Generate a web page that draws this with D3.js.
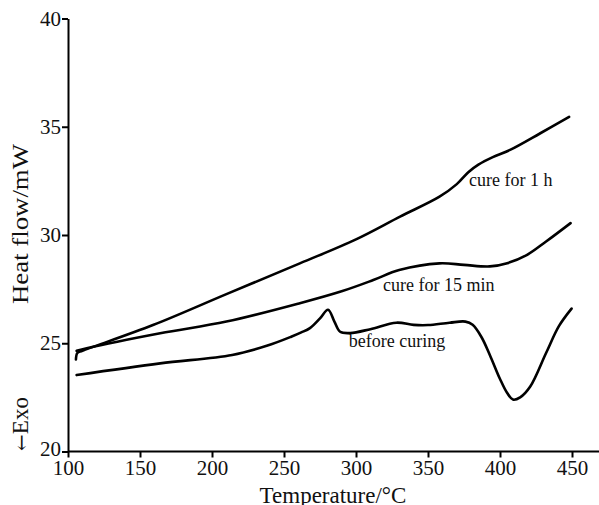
<!DOCTYPE html>
<html>
<head>
<meta charset="utf-8">
<script src="https://cdn.jsdelivr.net/npm/d3@7/dist/d3.min.js"></script>
<style>
  html, body { margin: 0; padding: 0; background: #fff; }
  svg { display: block; }
  text { font-family: "Liberation Serif", "Times New Roman", serif; fill: #111; }
</style>
</head>
<body>
<svg id="chart" width="599" height="505"></svg>
<script>
// ---- data ----
const xTicks = [100, 150, 200, 250, 300, 350, 400, 450];
const yTicks = [20, 25, 30, 35, 40];

const beforeX = [106, 164, 214, 238, 255, 262, 268, 275, 280.6, 285, 289, 296, 310, 328, 340, 350, 365, 376, 381, 387, 393, 400, 405, 409, 414, 421, 432, 441, 449.7];
const beforeY = [23.53, 24.07, 24.46, 24.88, 25.3, 25.5, 25.7, 26.15, 26.55, 26.0, 25.53, 25.47, 25.65, 25.95, 25.85, 25.84, 25.95, 26.0, 25.85, 25.3, 24.45, 23.35, 22.7, 22.4, 22.5, 23.0, 24.55, 25.8, 26.6];

const min15X = [106, 113, 164, 210, 261, 290, 312, 330, 358, 375, 393, 405, 418.5, 432, 449];
const min15Y = [24.65, 24.77, 25.46, 26.0, 26.85, 27.4, 27.92, 28.38, 28.69, 28.62, 28.55, 28.7, 29.07, 29.7, 30.55];

const hour1X = [105.5, 106.5, 110, 159, 210, 261, 300, 330.6, 358, 370, 378, 385, 395, 407, 428, 448];
const hour1Y = [24.25, 24.55, 24.65, 25.84, 27.27, 28.69, 29.8, 30.85, 31.77, 32.35, 32.9, 33.25, 33.6, 33.93, 34.7, 35.46];

const seriesLabels = [
  { text: "cure for 1 h", x: 378.5, y: 32.26 },
  { text: "cure for 15 min", x: 318.8, y: 27.41 },
  { text: "before curing", x: 295, y: 24.83 }
];

// ---- chart ----
const svg = d3.select("#chart");
const x = d3.scaleLinear().domain([100, 450]).range([68, 572]);
const y = d3.scaleLinear().domain([20, 40]).range([451.5, 18.5]);

// x axis
const gx = svg.append("g").attr("transform", `translate(0,${y(20)})`)
  .call(d3.axisBottom(x).tickValues(xTicks).tickSize(6).tickSizeOuter(0).tickPadding(3));
gx.select(".domain").remove();
gx.append("line").attr("x1", x(100)).attr("x2", 599).attr("y1", 0).attr("y2", 0)
  .attr("stroke", "#000").attr("stroke-width", 2);
gx.selectAll(".tick line").attr("stroke", "#000").attr("stroke-width", 2);
gx.selectAll(".tick text").attr("font-size", 21).attr("fill", "#111")
  .style("font-family", '"Liberation Serif", serif');

// y axis
const gy = svg.append("g").attr("transform", `translate(${x(100)},0)`)
  .call(d3.axisLeft(y).tickValues(yTicks).tickSize(6).tickSizeOuter(0).tickPadding(1));
gy.select(".domain").attr("stroke", "#000").attr("stroke-width", 2);
gy.selectAll(".tick line").attr("stroke", "#000").attr("stroke-width", 2);
gy.selectAll(".tick text").attr("font-size", 21).attr("fill", "#111")
  .style("font-family", '"Liberation Serif", serif');
gy.selectAll(".tick").filter(d => d === 20).select("text").attr("dy", "0.2em");

// curves
const line = d3.line().x(d => x(d[0])).y(d => y(d[1])).curve(d3.curveCatmullRom.alpha(0.5));
const series = [
  d3.zip(beforeX, beforeY),
  d3.zip(min15X, min15Y),
  d3.zip(hour1X, hour1Y)
];
svg.append("g").selectAll("path").data(series).join("path")
  .attr("d", line).attr("fill", "none").attr("stroke", "#000")
  .attr("stroke-width", 2.6).attr("stroke-linejoin", "round").attr("stroke-linecap", "round");

// series labels
svg.append("g").selectAll("text").data(seriesLabels).join("text")
  .attr("x", d => x(d.x)).attr("y", d => y(d.y))
  .attr("font-size", 18).text(d => d.text);

// axis titles
svg.append("text").attr("x", 333).attr("y", 503).attr("text-anchor", "middle")
  .attr("font-size", 23).text("Temperature/°C");
svg.append("text").attr("transform", "translate(28,224) rotate(-90)")
  .attr("text-anchor", "middle").attr("font-size", 24)
  .attr("textLength", 160).attr("lengthAdjust", "spacingAndGlyphs")
  .text("Heat flow/mW");
const exo = svg.append("text").attr("transform", "translate(28,424) rotate(-90)")
  .attr("text-anchor", "middle").attr("font-size", 23);
exo.append("tspan").style("font-family", '"DejaVu Serif", serif').attr("font-size", 20).text("←");
exo.append("tspan").text("Exo");
</script>
</body>
</html>
